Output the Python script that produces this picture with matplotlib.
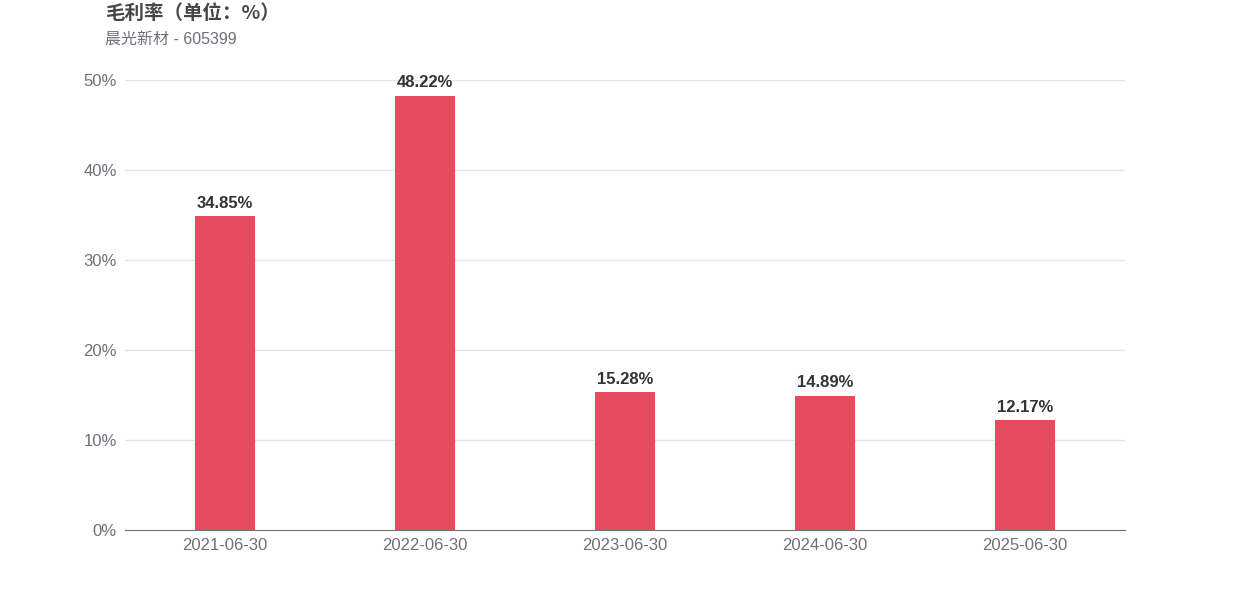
import matplotlib
matplotlib.use("Agg")
import matplotlib.pyplot as plt
from matplotlib.ticker import FuncFormatter

categories = ["2021-06-30", "2022-06-30", "2023-06-30", "2024-06-30", "2025-06-30"]
values = [34.85, 48.22, 15.28, 14.89, 12.17]
yticks = [0, 10, 20, 30, 40, 50]
title = "毛利率（单位：%）"
subtitle = "晨光新材 - 605399"

plt.rcParams['font.family'] = ['Liberation Sans', 'Noto Sans CJK SC', 'DejaVu Sans']

fig = plt.figure(figsize=(12.5, 6), dpi=100)
ax = fig.add_axes([0.1, 0.1167, 0.8, 0.75])

x = list(range(len(categories)))
ax.bar(x, values, width=0.3, color="#E64B5E", zorder=3)
for xi, v in zip(x, values):
    ax.annotate(f"{v:.2f}%", (xi, v), xytext=(0, 4), textcoords="offset points",
                ha="center", va="bottom", fontsize=12, fontweight="bold", color="#333333")

ax.set_xlim(-0.5, len(categories) - 0.5)
ax.set_ylim(0, 50)
ax.set_yticks(yticks)
ax.yaxis.set_major_formatter(FuncFormatter(lambda v, p: f"{v:.0f}%"))
ax.set_xticks(x)
ax.set_xticklabels(categories)
ax.tick_params(axis="both", length=0, labelsize=12, labelcolor="#6E7079")
ax.tick_params(axis="y", pad=6)
ax.tick_params(axis="x", pad=6)
ax.grid(axis="y", color="#E0E6F1", linewidth=1, zorder=0)
for s in ["top", "right", "left"]:
    ax.spines[s].set_visible(False)
ax.spines["bottom"].set_color("#6E7079")
ax.spines["bottom"].set_zorder(4)

fig.text(105/1250, 1 - 13/600, title, fontsize=14, fontweight="bold", color="#464646",
         ha="left", va="center", family=['Noto Sans CJK SC', 'DejaVu Sans'])
fig.text(105/1250, 1 - 40/600, subtitle, fontsize=11.5, color="#6E7079",
         ha="left", va="center", family=['Liberation Sans', 'Noto Sans CJK SC', 'DejaVu Sans'])

fig.savefig("out.png", dpi=100, facecolor="white")
